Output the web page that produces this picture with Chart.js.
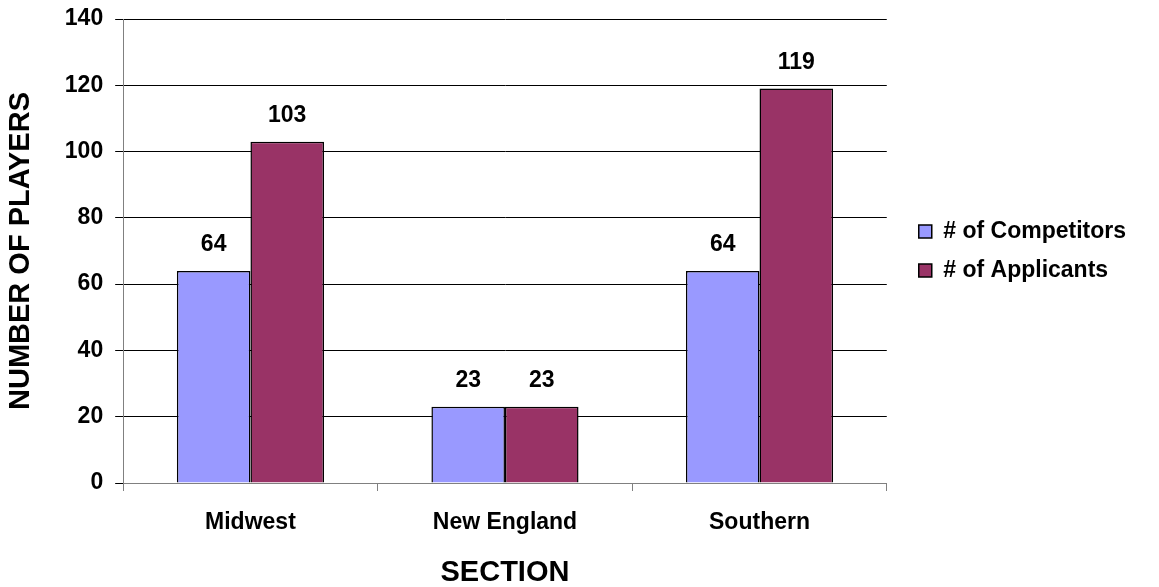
<!DOCTYPE html>
<html>
<head>
<meta charset="utf-8">
<script src="https://cdn.jsdelivr.net/npm/chart.js@4.4.1/dist/chart.umd.min.js"></script>
<style>
  html, body { margin: 0; padding: 0; background: #fff; }
  #wrap { width: 1159px; height: 587px; }
</style>
</head>
<body>
<div id="wrap"><canvas id="sectionChart"></canvas></div>
<script>
// data
var sections = ['Midwest', 'New England', 'Southern'];
var competitors = [64, 23, 64];
var applicants = [103, 23, 119];
var yTicks = [0, 20, 40, 60, 80, 100, 120, 140];

var FONT = '"Liberation Sans", Arial, sans-serif';

// numbers above each bar
var barLabels = {
    id: 'barLabels',
    afterDatasetsDraw(chart) {
        const ctx = chart.ctx;
        ctx.save();
        ctx.font = 'bold 23px ' + FONT;
        ctx.fillStyle = '#000';
        ctx.textAlign = 'center';
        ctx.textBaseline = 'alphabetic';
        chart.data.datasets.forEach((ds, i) => {
            chart.getDatasetMeta(i).data.forEach((bar, j) => {
                ctx.fillText(String(ds.data[j]), bar.x, bar.y - 20);
            });
        });
        ctx.restore();
    }
};

// push the legend a bit away from the plot area
var legendGap = {
    id: 'legendGap',
    afterLayout(chart) {
        if (chart.legend) {
            chart.legend.left += 16;
            chart.legend.right += 16;
        }
    }
};

var ctx = document.getElementById('sectionChart').getContext('2d');
var chartInstance = new Chart(ctx, {
    type: 'bar',
    data: {
        labels: sections,
        datasets: [{
            label: '# of Competitors',
            data: competitors,
            backgroundColor: '#9999FF',
            borderColor: '#000',
            borderWidth: 1.5
        }, {
            label: '# of Applicants',
            data: applicants,
            backgroundColor: '#993366',
            borderColor: '#000',
            borderWidth: 1.5
        }]
    },
    options: {
        responsive: true,
        maintainAspectRatio: false,
        animation: false,
        layout: {
            padding: { top: 19, right: 39, bottom: 0, left: 0 }
        },
        datasets: {
            bar: { categoryPercentage: 0.578, barPercentage: 1.0 }
        },
        plugins: {
            tooltip: { enabled: false },
            legend: {
                position: 'right',
                fullSize: false,
                align: 'center',
                labels: {
                    boxWidth: 13,
                    boxHeight: 13,
                    padding: 16,
                    color: '#000',
                    font: { family: FONT, size: 23, weight: 'bold' }
                }
            }
        },
        scales: {
            x: {
                grid: {
                    drawOnChartArea: false,
                    drawTicks: true,
                    offset: true,
                    tickLength: 8,
                    color: '#808080'
                },
                border: { color: '#808080' },
                ticks: {
                    color: '#000',
                    padding: 20,
                    font: { family: FONT, size: 23, weight: 'bold', lineHeight: 1 }
                },
                title: {
                    display: true,
                    text: 'SECTION',
                    color: '#000',
                    padding: { top: 4, bottom: 0 },
                    font: { family: FONT, size: 29, weight: 'bold', lineHeight: 1 }
                }
            },
            y: {
                min: 0,
                max: 140,
                afterBuildTicks: (axis) => {
                    axis.ticks = yTicks.map(v => ({ value: v }));
                },
                afterFit: (axis) => {
                    axis.paddingTop = 12;
                },
                grid: {
                    color: '#000',
                    lineWidth: 1,
                    tickLength: 8
                },
                border: { color: '#808080' },
                ticks: {
                    color: '#000',
                    padding: 12,
                    font: { family: FONT, size: 23, weight: 'bold' }
                },
                title: {
                    display: true,
                    text: 'NUMBER OF PLAYERS',
                    color: '#000',
                    padding: { top: 4, bottom: 14 },
                    font: { family: FONT, size: 29, weight: 'bold' }
                }
            }
        }
    },
    plugins: [barLabels, legendGap]
});
</script>
</body>
</html>
